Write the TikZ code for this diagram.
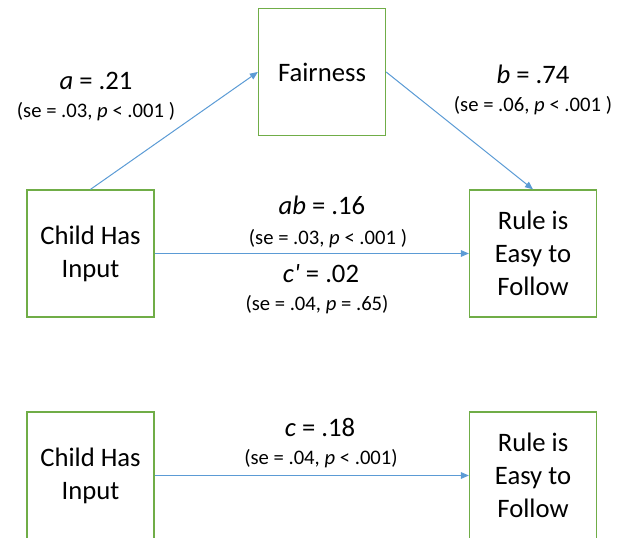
\documentclass[tikz,border=0pt]{standalone}
\usepackage{fontspec}
\setmainfont{Carlito}
\usetikzlibrary{arrows.meta}
\definecolor{boxgreen}{RGB}{112,173,71}
\definecolor{linkblue}{RGB}{91,155,213}
\tikzset{
  var/.style={draw=boxgreen,line width=1.2pt,minimum width=95pt,minimum height=95pt,inner sep=0pt,align=center,font=\fontsize{20}{24.8}\selectfont},
  link/.style={draw=linkblue,line width=0.75pt,-{Triangle[length=6pt,width=5pt]}},
  coef/.style={anchor=base,font=\fontsize{20}{24}\selectfont},
  stat/.style={anchor=base,font=\fontsize{15.5}{18}\selectfont}
}

\begin{document}
\begin{tikzpicture}[x=0.75pt,y=-0.75pt]
\useasboundingbox (0,0) rectangle (626,538);
\clip (0,0) rectangle (626,538);

% mediation model
\node[var] (fair) at (322,72) {Fairness};
\node[var] (child1) at (90.5,253.5) {Child Has\\Input};
\node[var] (rule1) at (533,253.5) {Rule is\\Easy to\\Follow};

\draw[link] (child1.north) -- (fair.west);
\draw[link] (fair.east) -- (rule1.north);
\draw[link] (child1.east) -- (rule1.west);

\node[coef] (aval) at (96,90) {\textit{a} = .21};
\node[stat] (ase) at (96,118) {(se = .03, \textit{p} < .001 )};
\node[coef] (bval) at (533,84) {\textit{b} = .74};
\node[stat] (bse) at (533,112) {(se = .06, \textit{p} < .001 )};
\node[coef] (abval) at (322,215) {\textit{ab} = .16};
\node[stat] (abse) at (328,245) {(se = .03, \textit{p} < .001 )};
\node[coef] (cpval) at (321,283) {\textit{c\textquotesingle} = .02};
\node[stat] (cpse) at (317,311) {(se = .04, \textit{p} = .65)};

% total effect
\node[var] (child2) at (90.5,475.5) {Child Has\\Input};
\node[var] (rule2) at (533,475.5) {Rule is\\Easy to\\Follow};

\draw[link] (child2.east) -- (rule2.west);

\node[coef] (cval) at (320,437) {\textit{c} = .18};
\node[stat] (cse) at (321,465) {(se = .04, \textit{p} < .001)};
\end{tikzpicture}
\end{document}
